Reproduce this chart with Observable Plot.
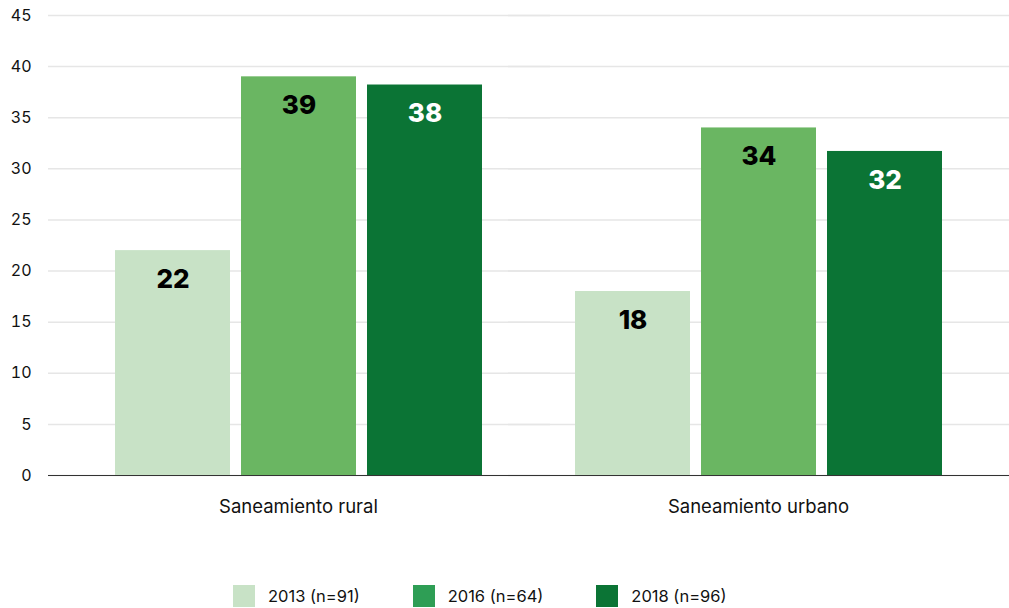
<!DOCTYPE html>
<html>
<head>
<meta charset="utf-8">
<script src="https://cdn.jsdelivr.net/npm/d3@7"></script>
<script src="https://cdn.jsdelivr.net/npm/@observablehq/plot@0.6"></script>
<style>
  html, body { margin: 0; padding: 0; background: #fff; }
  body { width: 1009px; height: 608px; overflow: hidden; font-family: Inter, "Noto Sans", sans-serif; }
  #chart svg { display: block; }
  .legend { display: flex; align-items: center; margin-left: 233px; margin-top: 25px; font-size: 16.5px; color: #111; }
  .legend .item { display: flex; align-items: center; margin-right: 53px; }
  .legend .sw { width: 22px; height: 22px; margin-right: 13px; }
</style>
</head>
<body>
<div id="chart"></div>
<div class="legend" id="legend"></div>
<script>
const categories = ["Saneamiento rural", "Saneamiento urbano"];
const years = ["2013 (n=91)", "2016 (n=64)", "2018 (n=96)"];
const values2013 = [22, 18];
const values2016 = [39, 34];
const values2018 = [38.2, 31.7];
const yTicks = [0, 5, 10, 15, 20, 25, 30, 35, 40, 45];
const barColors = ["#c8e2c6", "#6ab662", "#0b7435"];
const legendColors = ["#c8e2c6", "#2e9e55", "#0b7435"];

const series = [values2013, values2016, values2018];
const data = categories.flatMap((c, i) =>
  years.map((y, j) => ({category: c, year: y, value: series[j][i], dark: j === 2}))
);

const chart = Plot.plot({
  width: 1009,
  height: 560,
  marginLeft: 47,
  marginRight: 0,
  marginTop: 15,
  marginBottom: 85,
  style: {fontFamily: "Inter, 'Noto Sans', sans-serif", fontSize: "16px", color: "#111"},
  fx: {domain: categories, paddingInner: 0, paddingOuter: 0.0435, label: null, axis: null},
  x: {domain: years, paddingInner: 0.09, paddingOuter: 0.36, axis: null},
  y: {domain: [0, 45], axis: null, label: null},
  color: {domain: years, range: barColors},
  marks: [
    Plot.ruleY(yTicks, {stroke: "#e6e6e6", strokeWidth: 1.5, insetLeft: -20, insetRight: -22}),
    Plot.barY(data, {fx: "category", x: "year", y: "value", fill: "year"}),
    Plot.ruleY([0], {stroke: "#333", strokeWidth: 1, insetLeft: -20, insetRight: -22}),
    Plot.axisY(yTicks, {tickSize: 0, tickPadding: 37, fontSize: 16, fill: "#111", label: null}),
    Plot.axisFx({anchor: "bottom", tickSize: 0, tickPadding: 24, fontSize: 18.5, fill: "#111", label: null}),
    Plot.text(data, {
      filter: d => !d.dark,
      fx: "category", x: "year", y: "value",
      text: d => d3.format(".0f")(d.value),
      dy: 29, fill: "#000", fontSize: 26, fontWeight: 800
    }),
    Plot.text(data, {
      filter: d => d.dark,
      fx: "category", x: "year", y: "value",
      text: d => d3.format(".0f")(d.value),
      dy: 29, fill: "#fff", fontSize: 26, fontWeight: 800
    })
  ]
});
document.getElementById("chart").appendChild(chart);

const legend = document.getElementById("legend");
years.forEach((y, i) => {
  const item = document.createElement("div");
  item.className = "item";
  const sw = document.createElement("span");
  sw.className = "sw";
  sw.style.background = legendColors[i];
  const t = document.createElement("span");
  t.textContent = y;
  item.appendChild(sw);
  item.appendChild(t);
  legend.appendChild(item);
});
</script>
</body>
</html>
